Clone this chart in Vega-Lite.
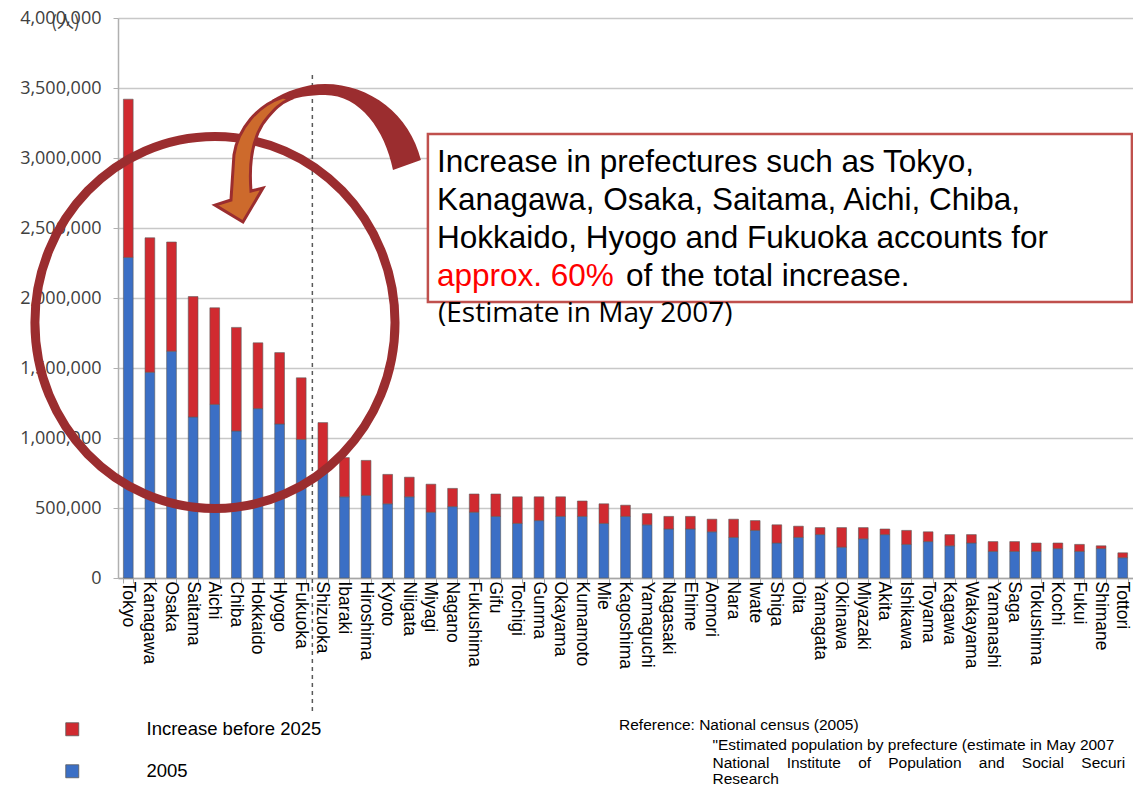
{
  "$schema": "https://vega.github.io/schema/vega-lite/v6.json",
  "width": 1015,
  "height": 560,
  "autosize": {"type": "none"},
  "padding": {"left": 118, "top": 18, "right": 0, "bottom": 209},
  "background": "white",
  "config": {"view": {"stroke": null}, "font": "Liberation Sans"},
  "datasets": {
    "pop": [
      {"pref": "Tokyo", "p2005": 2290000, "p2025": 3420000},
      {"pref": "Kanagawa", "p2005": 1470000, "p2025": 2430000},
      {"pref": "Osaka", "p2005": 1620000, "p2025": 2400000},
      {"pref": "Saitama", "p2005": 1150000, "p2025": 2010000},
      {"pref": "Aichi", "p2005": 1240000, "p2025": 1930000},
      {"pref": "Chiba", "p2005": 1050000, "p2025": 1790000},
      {"pref": "Hokkaido", "p2005": 1210000, "p2025": 1680000},
      {"pref": "Hyogo", "p2005": 1100000, "p2025": 1610000},
      {"pref": "Fukuoka", "p2005": 990000, "p2025": 1430000},
      {"pref": "Shizuoka", "p2005": 760000, "p2025": 1110000},
      {"pref": "Ibaraki", "p2005": 580000, "p2025": 860000},
      {"pref": "Hiroshima", "p2005": 590000, "p2025": 840000},
      {"pref": "Kyoto", "p2005": 530000, "p2025": 740000},
      {"pref": "Niigata", "p2005": 580000, "p2025": 720000},
      {"pref": "Miyagi", "p2005": 470000, "p2025": 670000},
      {"pref": "Nagano", "p2005": 510000, "p2025": 640000},
      {"pref": "Fukushima", "p2005": 470000, "p2025": 600000},
      {"pref": "Gifu", "p2005": 440000, "p2025": 600000},
      {"pref": "Tochigi", "p2005": 390000, "p2025": 580000},
      {"pref": "Gunma", "p2005": 410000, "p2025": 580000},
      {"pref": "Okayama", "p2005": 440000, "p2025": 580000},
      {"pref": "Kumamoto", "p2005": 440000, "p2025": 550000},
      {"pref": "Mie", "p2005": 390000, "p2025": 530000},
      {"pref": "Kagoshima", "p2005": 440000, "p2025": 520000},
      {"pref": "Yamaguchi", "p2005": 380000, "p2025": 460000},
      {"pref": "Nagasaki", "p2005": 350000, "p2025": 440000},
      {"pref": "Ehime", "p2005": 350000, "p2025": 440000},
      {"pref": "Aomori", "p2005": 330000, "p2025": 420000},
      {"pref": "Nara", "p2005": 290000, "p2025": 420000},
      {"pref": "Iwate", "p2005": 340000, "p2025": 410000},
      {"pref": "Shiga", "p2005": 250000, "p2025": 380000},
      {"pref": "Oita", "p2005": 290000, "p2025": 370000},
      {"pref": "Yamagata", "p2005": 310000, "p2025": 360000},
      {"pref": "Okinawa", "p2005": 220000, "p2025": 360000},
      {"pref": "Miyazaki", "p2005": 280000, "p2025": 360000},
      {"pref": "Akita", "p2005": 310000, "p2025": 350000},
      {"pref": "Ishikawa", "p2005": 240000, "p2025": 340000},
      {"pref": "Toyama", "p2005": 260000, "p2025": 330000},
      {"pref": "Kagawa", "p2005": 230000, "p2025": 310000},
      {"pref": "Wakayama", "p2005": 250000, "p2025": 310000},
      {"pref": "Yamanashi", "p2005": 190000, "p2025": 260000},
      {"pref": "Saga", "p2005": 190000, "p2025": 260000},
      {"pref": "Tokushima", "p2005": 190000, "p2025": 250000},
      {"pref": "Kochi", "p2005": 210000, "p2025": 250000},
      {"pref": "Fukui", "p2005": 190000, "p2025": 240000},
      {"pref": "Shimane", "p2005": 210000, "p2025": 230000},
      {"pref": "Tottori", "p2005": 145000, "p2025": 180000}
    ]
  },
  "layer": [
    {
      "data": {"name": "pop"},
      "layer": [
        {
          "mark": {"type": "bar", "stroke": "#5a5a5a", "strokeWidth": 0.6},
          "encoding": {
            "x": {
              "field": "pref", "type": "nominal", "sort": null,
              "scale": {"paddingInner": 0.55, "paddingOuter": 0.25},
              "axis": {
                "title": null, "labelAngle": 90, "labelAlign": "left", "labelBaseline": "middle",
                "labelFont": "Liberation Sans", "labelFontSize": 17.5, "labelColor": "black",
                "labelPadding": -2, "labelOffset": -1, "labelLimit": 300,
                "ticks": true, "tickBand": "extent", "tickSize": 5, "tickColor": "#a6a6a6",
                "domainColor": "#a6a6a6", "domainWidth": 1.5, "grid": false
              }
            },
            "y": {
              "field": "p2005", "type": "quantitative",
              "scale": {"domain": [0, 4000000]},
              "axis": {
                "title": "(人)", "titleAngle": 0, "titleX": -53, "titleY": 4,
                "titleAlign": "center", "titleBaseline": "middle",
                "titleFont": "Noto Sans CJK JP", "titleFontSize": 17, "titleFontWeight": "normal", "titleColor": "#404040",
                "values": [0, 500000, 1000000, 1500000, 2000000, 2500000, 3000000, 3500000, 4000000],
                "format": ",d", "labelFont": "Open Sans", "labelFontSize": 18, "labelColor": "#404040",
                "labelPadding": 12, "tickSize": 5, "tickColor": "#b0b0b0",
                "domainColor": "#b0b0b0", "domainWidth": 1.5,
                "grid": true, "gridColor": "#c8c8c8", "gridWidth": 1.5
              }
            },
            "color": {
              "datum": "2005",
              "scale": {"domain": ["Increase before 2025", "2005"], "range": ["#d02a30", "#3b6fc5"]},
              "legend": {
                "orient": "none", "legendX": -55, "legendY": 702, "title": null, "direction": "vertical",
                "symbolType": "square", "symbolSize": 169, "symbolStrokeColor": "#666666", "symbolStrokeWidth": 0.8,
                "labelFont": "Liberation Sans", "labelFontSize": 18.5, "labelColor": "black", "labelLimit": 400,
                "labelOffset": 65, "rowPadding": 23, "padding": 0
              }
            }
          }
        },
        {
          "mark": {"type": "bar", "stroke": "#5a5a5a", "strokeWidth": 0.6},
          "encoding": {
            "x": {"field": "pref", "type": "nominal", "sort": null},
            "y": {"field": "p2005", "type": "quantitative"},
            "y2": {"field": "p2025"},
            "color": {"datum": "Increase before 2025"}
          }
        }
      ]
    },
    {
      "data": {"values": [{}]},
      "layer": [
        {
          "mark": {"type": "rule", "strokeDash": [4, 4], "color": "#595959", "strokeWidth": 1.5},
          "encoding": {
            "x": {"datum": 9, "type": "quantitative", "scale": {"domain": [0, 47], "nice": false, "zero": false}, "axis": null},
            "y": {"datum": 3593000, "type": "quantitative", "scale": {"domain": [0, 4000000], "nice": false, "zero": false}, "axis": null},
            "y2": {"datum": -964000}
          }
        },
        {
          "mark": {"type": "point", "shape": "M -0.968 0 A 0.968 1 0 1 1 0.968 0 A 0.968 1 0 1 1 -0.968 0 Z", "filled": false, "stroke": "#9b2d2f", "strokeWidth": 9, "size": 138384, "opacity": 1},
          "encoding": {
            "x": {"datum": 4.49, "type": "quantitative", "axis": null},
            "y": {"datum": 1825000, "type": "quantitative", "axis": null}
          }
        },
        {
          "mark": {"type": "point", "shape": "M 0.936 0.045 C 0.836 -0.364 0.473 -0.645 0.064 -0.645 C -0.118 -0.645 -0.3 -0.573 -0.418 -0.5 L -0.345 -0.464 C -0.209 -0.527 -0.073 -0.545 0.064 -0.545 C 0.382 -0.545 0.609 -0.227 0.682 0.136 Z", "filled": true, "fill": "#9b2d2f", "strokeWidth": 0, "size": 48400, "opacity": 1},
          "encoding": {
            "x": {"datum": 9.26, "type": "quantitative", "axis": null},
            "y": {"datum": 3021000, "type": "quantitative", "axis": null}
          }
        },
        {
          "mark": {"type": "point", "shape": "M -0.318 -0.527 C -0.545 -0.455 -0.727 -0.245 -0.764 0 L -0.791 0.409 L -0.936 0.455 L -0.682 0.609 L -0.5 0.3 L -0.609 0.327 C -0.627 0.091 -0.6 -0.182 -0.455 -0.345 C -0.4 -0.409 -0.345 -0.473 -0.255 -0.509 Z", "filled": true, "fill": "#cd6a2c", "stroke": "#9b2d2f", "strokeWidth": 3, "size": 48400, "opacity": 1},
          "encoding": {
            "x": {"datum": 9.26, "type": "quantitative", "axis": null},
            "y": {"datum": 3021000, "type": "quantitative", "axis": null}
          }
        },
        {
          "mark": {"type": "rect", "fill": "white", "stroke": "#c0504d", "strokeWidth": 2.5},
          "encoding": {
            "x": {"datum": 14.35, "type": "quantitative", "axis": null},
            "x2": {"datum": 46.95},
            "y": {"datum": 3171000, "type": "quantitative", "axis": null},
            "y2": {"datum": 1971000}
          }
        },
        {
          "mark": {"type": "text", "text": "Increase in prefectures such as Tokyo,", "align": "left", "baseline": "alphabetic", "font": "Liberation Sans", "fontSize": 31.5, "color": "black"},
          "encoding": {
            "x": {"datum": 14.77, "type": "quantitative", "axis": null},
            "y": {"datum": 2900000, "type": "quantitative", "axis": null}
          }
        },
        {
          "mark": {"type": "text", "text": "Kanagawa, Osaka, Saitama, Aichi, Chiba,", "align": "left", "baseline": "alphabetic", "font": "Liberation Sans", "fontSize": 31.5, "color": "black"},
          "encoding": {
            "x": {"datum": 14.77, "type": "quantitative", "axis": null},
            "y": {"datum": 2629000, "type": "quantitative", "axis": null}
          }
        },
        {
          "mark": {"type": "text", "text": "Hokkaido, Hyogo and Fukuoka accounts for", "align": "left", "baseline": "alphabetic", "font": "Liberation Sans", "fontSize": 31.5, "color": "black"},
          "encoding": {
            "x": {"datum": 14.77, "type": "quantitative", "axis": null},
            "y": {"datum": 2357000, "type": "quantitative", "axis": null}
          }
        },
        {
          "mark": {"type": "text", "text": "approx. 60%", "align": "left", "baseline": "alphabetic", "font": "Liberation Sans", "fontSize": 31.5, "color": "#ff0000"},
          "encoding": {
            "x": {"datum": 14.77, "type": "quantitative", "axis": null},
            "y": {"datum": 2086000, "type": "quantitative", "axis": null}
          }
        },
        {
          "mark": {"type": "text", "text": "of the total increase.", "align": "left", "baseline": "alphabetic", "font": "Liberation Sans", "fontSize": 31.5, "color": "black"},
          "encoding": {
            "x": {"datum": 23.52, "type": "quantitative", "axis": null},
            "y": {"datum": 2086000, "type": "quantitative", "axis": null}
          }
        },
        {
          "mark": {"type": "text", "text": "(Estimate in May 2007)", "align": "left", "baseline": "alphabetic", "font": "Open Sans", "fontSize": 28, "color": "black"},
          "encoding": {
            "x": {"datum": 14.82, "type": "quantitative", "axis": null},
            "y": {"datum": 1829000, "type": "quantitative", "axis": null}
          }
        },
        {
          "mark": {"type": "text", "text": "Reference: National census (2005)", "align": "left", "baseline": "alphabetic", "font": "Liberation Sans", "fontSize": 15.5, "color": "black"},
          "encoding": {
            "x": {"datum": 23.2, "type": "quantitative", "axis": null},
            "y": {"datum": -1086000, "type": "quantitative", "axis": null}
          }
        },
        {
          "mark": {"type": "text", "text": "\"Estimated population by prefecture (estimate in May 2007", "align": "left", "baseline": "alphabetic", "font": "Liberation Sans", "fontSize": 15.5, "color": "black"},
          "encoding": {
            "x": {"datum": 27.53, "type": "quantitative", "axis": null},
            "y": {"datum": -1229000, "type": "quantitative", "axis": null}
          }
        },
        {
          "mark": {"type": "text", "text": "National\u00a0\u00a0\u00a0\u00a0Institute\u00a0\u00a0\u00a0\u00a0of\u00a0\u00a0\u00a0\u00a0Population\u00a0\u00a0\u00a0\u00a0and\u00a0\u00a0\u00a0\u00a0Social\u00a0\u00a0\u00a0\u00a0Securi", "align": "left", "baseline": "alphabetic", "font": "Liberation Sans", "fontSize": 15.5, "color": "black"},
          "encoding": {
            "x": {"datum": 27.53, "type": "quantitative", "axis": null},
            "y": {"datum": -1357000, "type": "quantitative", "axis": null}
          }
        },
        {
          "mark": {"type": "text", "text": "Research", "align": "left", "baseline": "alphabetic", "font": "Liberation Sans", "fontSize": 15.5, "color": "black"},
          "encoding": {
            "x": {"datum": 27.53, "type": "quantitative", "axis": null},
            "y": {"datum": -1471000, "type": "quantitative", "axis": null}
          }
        }
      ]
    }
  ],
  "resolve": {"scale": {"x": "independent", "y": "independent"}, "axis": {"x": "independent", "y": "independent"}}
}
